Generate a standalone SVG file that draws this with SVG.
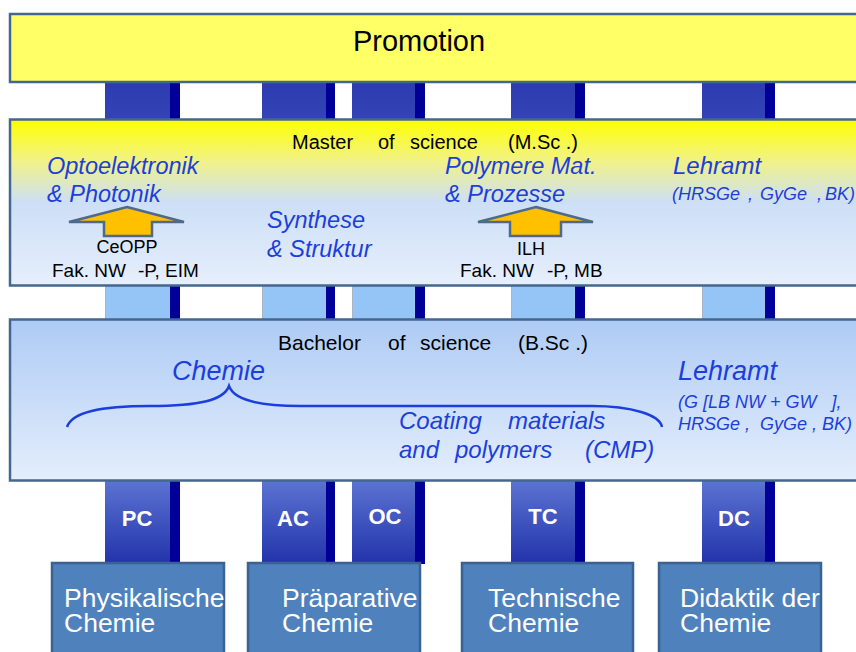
<svg xmlns="http://www.w3.org/2000/svg" width="856" height="652" viewBox="0 0 856 652">
<defs>
<style>
.box{stroke:#44678f;stroke-width:2.5}
.blk{font-family:"Liberation Sans",Arial,sans-serif;fill:#000}
.it{font-family:"Liberation Sans",Arial,sans-serif;font-style:italic;fill:#1c3fdc}
.pl{font-family:"Liberation Sans",Arial,sans-serif;font-weight:bold;fill:#fff;font-size:22px;text-anchor:middle}
.bt{font-family:"Liberation Sans",Arial,sans-serif;fill:#fff;font-size:26.5px}
.bb{fill:#4f81bd;stroke:#3b6291;stroke-width:2.5}
.stripe{fill:#000099}
.arr{fill:#ffc000;stroke:#4d6a8c;stroke-width:2.5;stroke-linejoin:miter}
</style>
<linearGradient id="gMaster" x1="0" y1="0" x2="0" y2="1">
<stop offset="0" stop-color="#ffff00"/>
<stop offset="0.25" stop-color="#f1f288"/>
<stop offset="0.5" stop-color="#cddff6"/>
<stop offset="1" stop-color="#e6effc"/>
</linearGradient>
<linearGradient id="gBach" x1="0" y1="0" x2="0" y2="1">
<stop offset="0" stop-color="#aecbf5"/>
<stop offset="1" stop-color="#e4eefc"/>
</linearGradient>
<linearGradient id="gLow" x1="0" y1="0" x2="0" y2="1">
<stop offset="0" stop-color="#5b73d2"/>
<stop offset="1" stop-color="#2233aa"/>
</linearGradient>
<linearGradient id="gUp" x1="0" y1="0" x2="0" y2="1">
<stop offset="0" stop-color="#2c3cb0"/>
<stop offset="1" stop-color="#3444b6"/>
</linearGradient>
<clipPath id="c1"><rect x="52" y="563" width="172" height="100"/></clipPath>
<clipPath id="c2"><rect x="248" y="563" width="172" height="100"/></clipPath>
<clipPath id="c3"><rect x="462" y="563" width="171" height="100"/></clipPath>
<clipPath id="c4"><rect x="659" y="563" width="162" height="100"/></clipPath>
</defs>
<rect width="856" height="652" fill="#fff"/>

<g id="pillars">
<g fill="url(#gUp)">
<rect x="105" y="82" width="65" height="38"/>
<rect x="262" y="82" width="64" height="38"/>
<rect x="352" y="82" width="63" height="38"/>
<rect x="511" y="82" width="64" height="38"/>
<rect x="702" y="82" width="63" height="38"/>
</g>
<g class="stripe">
<rect x="170" y="82" width="10" height="38"/>
<rect x="326" y="82" width="9" height="38"/>
<rect x="415" y="82" width="10" height="38"/>
<rect x="575" y="82" width="10" height="38"/>
<rect x="765" y="82" width="10" height="38"/>
</g>
<g fill="#95c5f7" stroke="#a9b4c4" stroke-width="1">
<rect x="105.5" y="286" width="65" height="34"/>
<rect x="262.5" y="286" width="64" height="34"/>
<rect x="352.5" y="286" width="63" height="34"/>
<rect x="511.5" y="286" width="64" height="34"/>
<rect x="702.5" y="286" width="63" height="34"/>
</g>
<g class="stripe">
<rect x="170" y="286" width="10" height="34"/>
<rect x="326" y="286" width="9" height="34"/>
<rect x="415" y="286" width="10" height="34"/>
<rect x="575" y="286" width="10" height="34"/>
<rect x="765" y="286" width="10" height="34"/>
</g>
<g fill="url(#gLow)">
<rect x="105" y="481" width="65" height="83"/>
<rect x="262" y="481" width="64" height="83"/>
<rect x="352" y="481" width="63" height="83"/>
<rect x="511" y="481" width="64" height="83"/>
<rect x="702" y="481" width="63" height="83"/>
</g>
<g class="stripe">
<rect x="170" y="481" width="10" height="83"/>
<rect x="326" y="481" width="9" height="83"/>
<rect x="415" y="481" width="10" height="83"/>
<rect x="575" y="481" width="10" height="83"/>
<rect x="765" y="481" width="10" height="83"/>
</g>
<text class="pl" x="137" y="526">PC</text>
<text class="pl" x="293" y="526">AC</text>
<text class="pl" x="385" y="524">OC</text>
<text class="pl" x="543" y="524">TC</text>
<text class="pl" x="734" y="526">DC</text>
</g>

<g id="promotion">
<rect class="box" x="10" y="14" width="860" height="68" fill="#ffff66"/>
<text class="blk" x="419" y="51" font-size="29" text-anchor="middle">Promotion</text>
</g>

<g id="master">
<rect class="box" x="10" y="119.5" width="860" height="166" fill="url(#gMaster)"/>
<text class="blk" font-size="20" y="149"><tspan x="292">Master</tspan><tspan x="378">of</tspan><tspan x="410">science</tspan><tspan x="508">(M.Sc .)</tspan></text>
<text class="it" font-size="23.5" x="47" y="174">Optoelektronik</text>
<text class="it" font-size="23.5" x="47" y="202">&amp; Photonik</text>
<text class="it" font-size="23.5" x="267" y="228">Synthese</text>
<text class="it" font-size="23.5" x="267" y="257">&amp; Struktur</text>
<text class="it" font-size="23.5" x="445" y="174">Polymere Mat.</text>
<text class="it" font-size="23.5" x="445" y="202">&amp; Prozesse</text>
<text class="it" font-size="24" x="673" y="174">Lehramt</text>
<text class="it" font-size="18" y="200"><tspan x="672">(HRSGe</tspan><tspan x="748">,</tspan><tspan x="760">GyGe</tspan><tspan x="817">,</tspan><tspan x="825">BK)</tspan></text>
<text class="blk" font-size="18" x="127" y="253" text-anchor="middle">CeOPP</text>
<text class="blk" font-size="19" y="277"><tspan x="52">Fak. NW</tspan><tspan x="138">-P, EIM</tspan></text>
<text class="blk" font-size="18" x="531" y="255" text-anchor="middle">ILH</text>
<text class="blk" font-size="19" y="277"><tspan x="460">Fak. NW</tspan><tspan x="547">-P, MB</tspan></text>
</g>

<g id="bachelor">
<rect class="box" x="10" y="319.5" width="860" height="161" fill="url(#gBach)"/>
<text class="blk" font-size="21" y="350"><tspan x="278">Bachelor</tspan><tspan x="388">of</tspan><tspan x="420">science</tspan><tspan x="518">(B.Sc .)</tspan></text>
<text class="it" font-size="27" x="172" y="380">Chemie</text>
<text class="it" font-size="24" y="429"><tspan x="399">Coating</tspan><tspan x="508">materials</tspan></text>
<text class="it" font-size="24" y="458"><tspan x="399">and</tspan><tspan x="455">polymers</tspan><tspan x="585">(CMP)</tspan></text>
<text class="it" font-size="27" x="678" y="380">Lehramt</text>
<text class="it" font-size="18" x="678" y="408" xml:space="preserve">(G [LB NW + GW   ],</text>
<text class="it" font-size="18" x="678" y="430" xml:space="preserve">HRSGe ,  GyGe , BK)</text>
</g>

<g id="connectors">
<polygon class="arr" points="127,207 184,222 152,222 152,236 104,236 104,222 69,222"/>
<polygon class="arr" points="536,207 593,222 561,222 561,236 510,236 510,222 478,222"/>
<path d="M67,427 C72,412 100,406 150,406 C200,406 224,400 229,386 C234,400 258,406 300,406 L592,406 C632,406 660,415 662,427" fill="none" stroke="#1c3fdc" stroke-width="2.5"/>
</g>

<g id="pc-box">
<rect class="bb" x="52" y="563" width="172" height="100"/>
<text class="bt" clip-path="url(#c1)"><tspan x="64" y="607">Physikalische</tspan><tspan x="64" y="632">Chemie</tspan></text>
</g>
<g id="prep-box">
<rect class="bb" x="248" y="563" width="172" height="100"/>
<text class="bt" clip-path="url(#c2)"><tspan x="282" y="607">Präparative</tspan><tspan x="282" y="632">Chemie</tspan></text>
</g>
<g id="tc-box">
<rect class="bb" x="462" y="563" width="171" height="100"/>
<text class="bt" clip-path="url(#c3)"><tspan x="488" y="607">Technische</tspan><tspan x="488" y="632">Chemie</tspan></text>
</g>
<g id="dc-box">
<rect class="bb" x="659" y="563" width="162" height="100"/>
<text class="bt" clip-path="url(#c4)"><tspan x="680" y="607">Didaktik der</tspan><tspan x="680" y="632">Chemie</tspan></text>
</g>
</svg>
